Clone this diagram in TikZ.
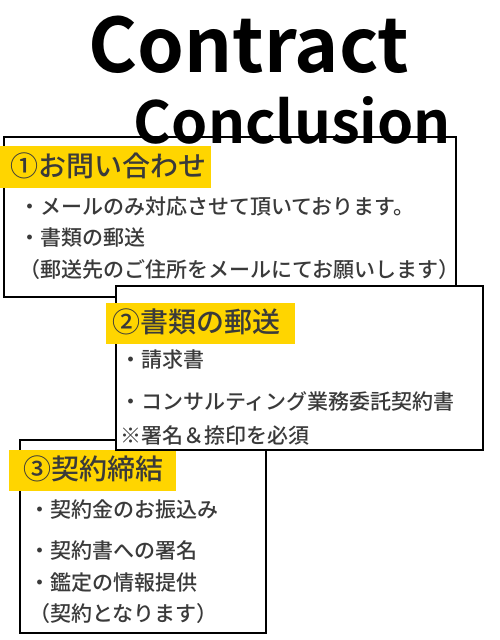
\documentclass[tikz,border=0pt]{standalone}
\usepackage{fontspec}
\setmainfont{Noto Sans CJK JP Medium}
\newfontfamily\jpbold{Noto Sans CJK JP Bold}
\definecolor{hl}{HTML}{FFD500}
\definecolor{txt}{HTML}{3A3A3A}
\tikzset{
  card/.style={draw=black, fill=white, line width=1.6pt},
  hlbar/.style={fill=hl, draw=none},
  head/.style={anchor=west, inner sep=0pt, text=txt, font=\fontsize{28}{30}\selectfont, text height=0.88em, text depth=0.12em},
  item/.style={anchor=west, inner sep=0pt, text=txt, font=\fontsize{21}{24}\selectfont, text height=0.88em, text depth=0.12em},
  titletext/.style={anchor=base west, inner sep=0pt, text=black}
}
\begin{document}
\begin{tikzpicture}[x=1pt,y=-1pt]
\useasboundingbox (0,0) rectangle (500,640);
% box 3
\draw[card] (20,440) rectangle (266,633);
\fill[hlbar] (9,450) rectangle (176,491);
\node[head] (h3) at (23,476) {③契約締結};
\node[item] (c1) at (29,514) {・契約金のお振込み};
\node[item] (c2) at (29,555) {・契約書への署名};
\node[item] (c3) at (29,587) {・鑑定の情報提供};
\node[item] (c4) at (29,618) {（契約となります）};
% box 1
\draw[card] (4,137) rectangle (456,297);
\fill[hlbar] (0,146) rectangle (211,188);
\node[head] (h1) at (10,173) {①お問い合わせ};
\node[item] (a1) at (19,211) {・メールのみ対応させて頂いております。};
\node[item] (a2) at (19,242) {・書類の郵送};
\node[item] (a3) at (19,274) {（郵送先のご住所をメールにてお願いします）};
% box 2
\draw[card] (116,286) rectangle (483,450);
\fill[hlbar] (106,303) rectangle (295,344);
\node[head] (h2) at (112,329) {②書類の郵送};
\node[item] (b1) at (120,364) {・請求書};
\node[item] (b2) at (120,406) {・コンサルティング業務委託契約書};
\node[item] (b3) at (120,440) {※署名＆捺印を必須};
% title
\node[titletext, font=\jpbold\fontsize{75}{78}\selectfont] (t1) at (88.5,72) {Contract};
\node[titletext, font=\jpbold\fontsize{58}{60}\selectfont] (t2) at (133.5,143) {Conclusion};
\end{tikzpicture}
\end{document}
